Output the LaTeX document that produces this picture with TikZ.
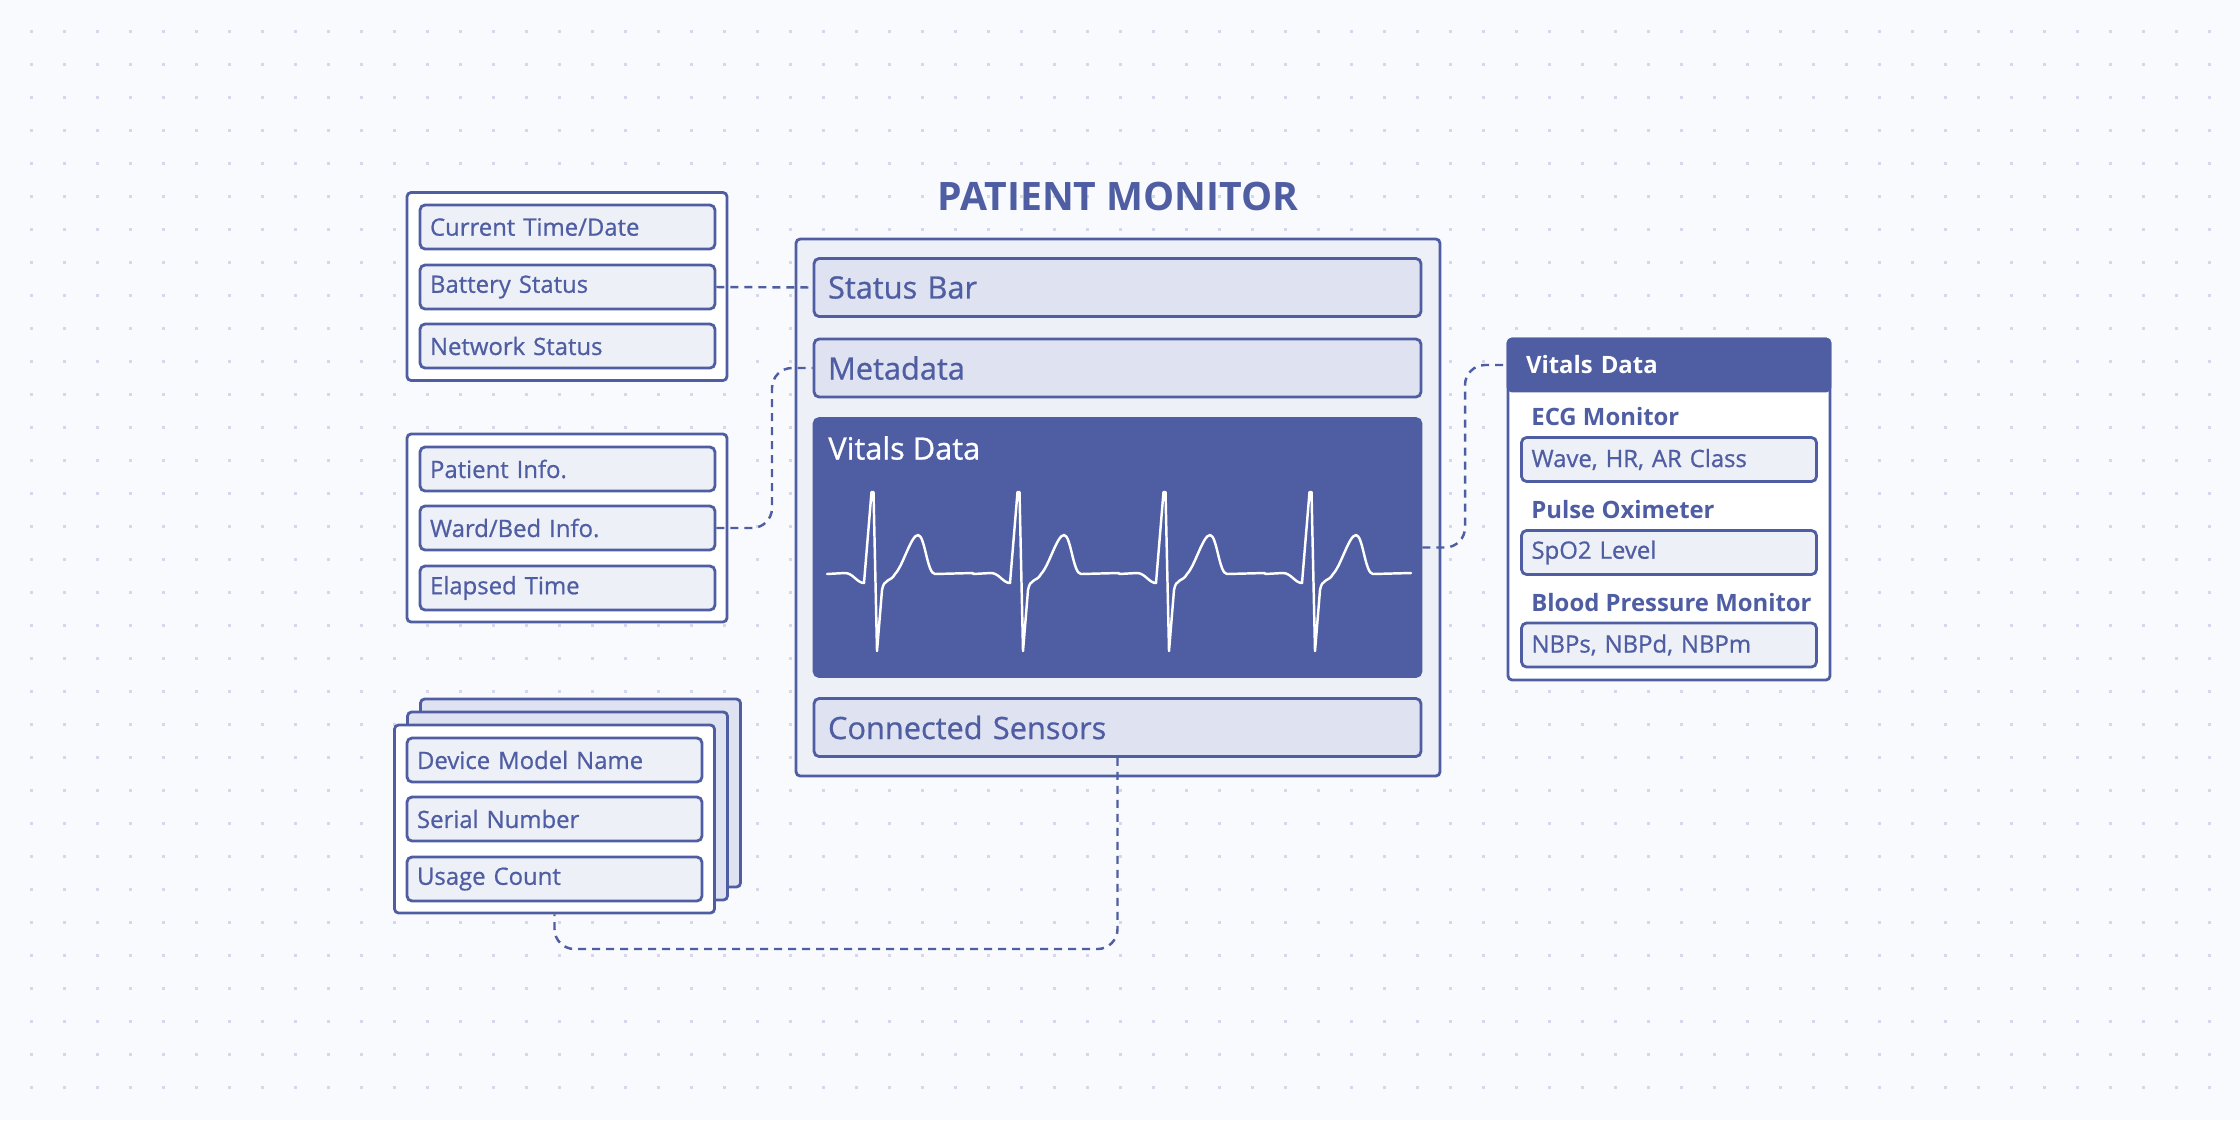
\documentclass[tikz,border=0pt]{standalone}
\usepackage{fontspec}
\setmainfont{Open Sans}
\newfontfamily\medfont{Open Sans}[FakeBold=0.8]

\definecolor{ink}{HTML}{4F5EA3}
\definecolor{paper}{HTML}{F9FAFE}
\definecolor{dotgray}{HTML}{D5D8EC}
\definecolor{panelfill}{HTML}{EEF0F8}
\definecolor{barfill}{HTML}{DFE2F0}
\definecolor{cellfill}{HTML}{EEF0F7}

\tikzset{
  group/.style={draw=ink, line width=1.6pt, fill=white, rounded corners=0.08cm,
    minimum width=6.4cm, minimum height=3.76cm},
  entry/.style={draw=ink, line width=1.6pt, fill=cellfill, rounded corners=0.1cm,
    minimum height=0.88cm, text width=5.5cm, inner xsep=0.2cm, align=left,
    text=ink, font=\medfont\fontsize{13.6}{16}\selectfont},
  section/.style={draw=ink, line width=1.6pt, fill=barfill, rounded corners=0.1cm,
    minimum height=1.16cm, text width=11.58cm, inner xsep=0.28cm, align=left,
    text=ink, font=\medfont\fontsize{17.5}{20}\selectfont},
  sublabel/.style={anchor=west, inner xsep=0.2cm, text=ink,
    font=\bfseries\fontsize{13.6}{16}\selectfont},
  link/.style={draw=ink, line width=1.4pt, dash pattern=on 0.16cm off 0.12cm,
    rounded corners=0.4cm},
  wave/.style={draw=white, line width=1.4pt, line join=round, line cap=round}
}

\begin{document}
\begin{tikzpicture}[x=0.02cm, y=-0.02cm]
  \useasboundingbox (0,0) rectangle (2240,1120);
  \fill[paper] (0,0) rectangle (2240,1120);
  % dot grid
  \foreach \i in {31,64,...,2209}
    \foreach \j in {31,64,...,1087}
      \fill[dotgray] (\i-1.5,\j-1.5) rectangle ++(3,3);

  % monitor
  \node[font=\bfseries\fontsize{22.3}{26}\selectfont, text=ink] (title) at (1118,196) {PATIENT MONITOR};
  \node[draw=ink, line width=1.6pt, fill=panelfill, rounded corners=0.08cm,
    minimum width=12.88cm, minimum height=10.74cm] (monitor) at (1118,507.5) {};
  \node[section] (statusbar) at (1117.5,287.5) {Status Bar};
  \node[section] (metadata) at (1117.5,368) {Metadata};
  \node[draw=ink, line width=1.6pt, fill=ink, rounded corners=0.1cm,
    minimum width=12.14cm, minimum height=5.16cm] (vitals) at (1117.5,547.5) {};
  \node[anchor=west, inner xsep=0.28cm, text=white,
    font=\medfont\fontsize{17.5}{20}\selectfont] (vitalstitle) at (814,448) {Vitals Data};
  \node[section] (sensors) at (1117.5,727.5) {Connected Sensors};

  % ecg trace
  \foreach \r in {873,1019,1165,1311}
    \draw[wave] (\r-46,574) -- (\r-28,573)
      .. controls (\r-20,573) and (\r-16,583) .. (\r-9,583)
      -- (\r-1.5,492) -- (\r+0.5,492) -- (\r+4,651)
      -- (\r+9,590) .. controls (\r+11,578) and (\r+18,582) .. (\r+22,574)
      .. controls (\r+30,566) and (\r+38,535) .. (\r+45,535)
      .. controls (\r+52,535) and (\r+54,574) .. (\r+62,574)
      -- (\r+100,573);

  % clock and status
  \node[group] (clockgroup) at (567,286.5) {};
  \node[entry] (clock) at (567.5,227) {Current Time/Date};
  \node[entry] (battery) at (567.5,287) {Battery Status};
  \node[entry] (network) at (567.5,346) {Network Status};

  % patient
  \node[group] (patientgroup) at (567,528) {};
  \node[entry] (patient) at (567.5,469) {Patient Info.};
  \node[entry] (ward) at (567.5,528) {Ward/Bed Info.};
  \node[entry] (elapsed) at (567.5,588) {Elapsed Time};

  % sensor cards
  \node[group, fill=barfill] (stackback) at (580.5,793) {};
  \node[group, fill=barfill] (stackmid) at (567.5,806) {};
  \node[group] (stackfront) at (554.5,819) {};
  \node[entry] (model) at (554.5,760) {Device Model Name};
  \node[entry] (serial) at (554.5,819) {Serial Number};
  \node[entry] (usage) at (554.5,879) {Usage Count};

  % vitals detail
  \node[draw=ink, line width=1.6pt, fill=white, rounded corners=0.08cm,
    minimum width=6.44cm, minimum height=6.82cm] (side) at (1669,509.5) {};
  \node[draw=ink, line width=1.6pt, fill=ink, rounded corners=0.08cm,
    minimum width=6.44cm, minimum height=1.04cm, text width=5.72cm, inner xsep=0.36cm,
    align=left, text=white, font=\bfseries\fontsize{13.6}{16}\selectfont] (sidehead) at (1669,365) {Vitals Data};
  \node[sublabel] (ecglabel) at (1521,417) {ECG Monitor};
  \node[entry] (ecgitem) at (1669,459.5) {Wave, HR, AR Class};
  \node[sublabel] (pulselabel) at (1521,510) {Pulse Oximeter};
  \node[entry] (spoitem) at (1669,552.5) {SpO2 Level};
  \node[sublabel] (bplabel) at (1521,603) {Blood Pressure Monitor};
  \node[entry] (bpitem) at (1669,645) {NBPs, NBPd, NBPm};

  % links
  \coordinate (metabend) at (772,450);
  \coordinate (vitalbend) at (1465,450);
  \coordinate (sensordip) at (554.5,949);
  \draw[link] (battery.east) -- (statusbar.west);
  \draw[link] (ward.east) -| (metabend) |- (metadata.west);
  \draw[link] (vitals.east) -| (vitalbend) |- (sidehead.west);
  \draw[link] (sensors.south) |- (sensordip) -- (stackfront.south);
\end{tikzpicture}
\end{document}
